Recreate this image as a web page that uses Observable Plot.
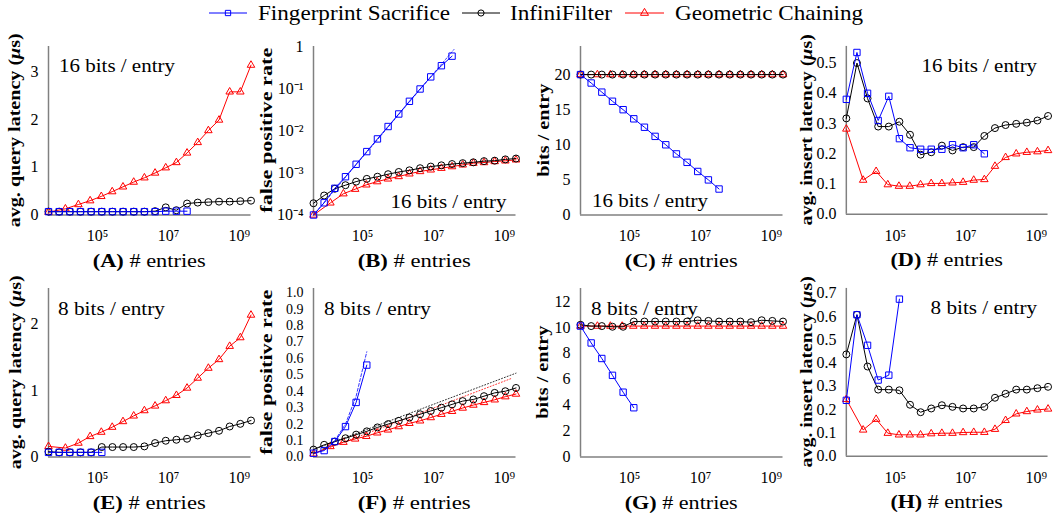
<!DOCTYPE html>
<html><head><meta charset="utf-8">
<script src="https://cdn.jsdelivr.net/npm/d3@7"></script>
<script src="https://cdn.jsdelivr.net/npm/@observablehq/plot@0.6"></script>
<style>
body{margin:0;background:#fff;}
#root{position:relative;width:1063px;height:521px;font-family:"Liberation Serif",serif;overflow:hidden;}
.panel{position:absolute;}
.panel svg text{font-family:"Liberation Serif",serif;}
</style></head><body><div id="root"></div>
<script>
// ---------- data ----------
// x values (# entries) for Fingerprint Sacrifice and InfiniFilter
const xDouble = [4096, 8192, 16384, 32768, 65536, 131072, 262144, 524288, 1048576, 2097152, 4194304, 8388608, 16777216, 33554432, 67108864, 134217728, 268435456, 536870912, 1073741824, 2147483648];
// x values (# entries) for Geometric Chaining
const xChain = [4096, 12288, 28672, 61440, 126976, 258048, 520192, 1044480, 2093056, 4190208, 8384512, 16773120, 33550336, 67104768, 134213632, 268431360, 536866816, 1073737728, 2147479552];
const seriesNames = ["Fingerprint Sacrifice", "InfiniFilter", "Geometric Chaining"];
const xTicks = [1e5, 1e7, 1e9];
const xTickLabels = ["10⁵", "10⁷", "10⁹"];

// (A) query latency, 16 bits/entry
const qFS16 = [0.07, 0.07, 0.07, 0.07, 0.07, 0.07, 0.07, 0.07, 0.07, 0.07, 0.07, 0.08, 0.08, 0.08];
const qIF16 = [0.07, 0.07, 0.07, 0.07, 0.07, 0.07, 0.07, 0.07, 0.07, 0.07, 0.08, 0.16, 0.10, 0.24, 0.26, 0.27, 0.28, 0.28, 0.29, 0.30];
const qGC16 = [0.06, 0.13, 0.22, 0.30, 0.39, 0.49, 0.59, 0.69, 0.78, 0.88, 0.99, 1.10, 1.30, 1.52, 1.77, 1.99, 2.58, 2.58, 3.14];
// (B) false positive rate, 16 bits/entry
const fpFS16 = [1e-4, 1.95e-4, 4.3e-4, 8.1e-4, 1.6e-3, 3.2e-3, 6.4e-3, 1.26e-2, 2.5e-2, 5.0e-2, 9.8e-2, 0.19, 0.35, 0.59];
const fpIF16 = [1.9e-4, 2.9e-4, 4.2e-4, 5.1e-4, 6.2e-4, 7.2e-4, 8.1e-4, 9.3e-4, 1.05e-3, 1.15e-3, 1.29e-3, 1.41e-3, 1.51e-3, 1.62e-3, 1.7e-3, 1.78e-3, 1.9e-3, 1.95e-3, 2.09e-3, 2.19e-3];
const fpGC16 = [1e-4, 1.94e-4, 3.2e-4, 4.1e-4, 5.2e-4, 6.2e-4, 7.2e-4, 8.2e-4, 9.5e-4, 1.08e-3, 1.18e-3, 1.29e-3, 1.41e-3, 1.55e-3, 1.7e-3, 1.76e-3, 1.86e-3, 1.93e-3, 2.04e-3];
const fpModelFS16x = [4096, 38000000];
const fpModelFS16 = [1e-4, 0.85];
// (C) bits per entry, 16 bits/entry
const bFS16 = [20, 18.8, 17.5, 16.2, 15.0, 13.7, 12.5, 11.2, 10.0, 8.7, 7.5, 6.2, 5.0, 3.7];
const bIF16 = [20, 20, 20, 20, 20, 20, 20, 20, 20, 20, 20, 20, 20, 20, 20, 20, 20, 20, 20, 20];
const bGC16 = [20, 20, 20, 20, 20, 20, 20, 20, 20, 20, 20, 20, 20, 20, 20, 20, 20, 20, 20];
// (D) insert latency, 16 bits/entry
const iFS16 = [0.38, 0.535, 0.40, 0.31, 0.39, 0.25, 0.22, 0.215, 0.215, 0.215, 0.23, 0.22, 0.23, 0.20];
const iIF16 = [0.317, 0.500, 0.383, 0.290, 0.290, 0.306, 0.263, 0.197, 0.205, 0.227, 0.211, 0.222, 0.222, 0.259, 0.285, 0.295, 0.299, 0.303, 0.310, 0.325];
const iGC16 = [0.282, 0.113, 0.142, 0.098, 0.093, 0.093, 0.098, 0.102, 0.102, 0.104, 0.106, 0.113, 0.115, 0.159, 0.188, 0.200, 0.205, 0.207, 0.211];
// (E) query latency, 8 bits/entry
const qFS8 = [0.07, 0.07, 0.07, 0.07, 0.07, 0.07];
const qIF8 = [0.08, 0.07, 0.07, 0.07, 0.07, 0.15, 0.15, 0.15, 0.15, 0.16, 0.21, 0.245, 0.26, 0.275, 0.325, 0.36, 0.395, 0.46, 0.50, 0.55];
const qGC8 = [0.16, 0.135, 0.21, 0.31, 0.375, 0.45, 0.535, 0.62, 0.70, 0.77, 0.85, 0.93, 1.04, 1.19, 1.34, 1.47, 1.67, 1.80, 2.14];
// (F) false positive rate, 8 bits/entry
const fpFS8 = [0.023, 0.039, 0.094, 0.185, 0.332, 0.559];
const fpIF8 = [0.045, 0.074, 0.094, 0.114, 0.136, 0.156, 0.18, 0.20, 0.22, 0.24, 0.26, 0.28, 0.30, 0.32, 0.34, 0.35, 0.37, 0.39, 0.40, 0.42];
const fpGC8 = [0.019, 0.064, 0.09, 0.11, 0.126, 0.147, 0.165, 0.185, 0.205, 0.22, 0.24, 0.26, 0.278, 0.298, 0.316, 0.332, 0.348, 0.367, 0.383];
const fpModelFS8x = [4096, 8192, 16384, 32768, 65536, 131072];
const fpModelFS8 = [0.02, 0.045, 0.10, 0.20, 0.37, 0.64];
const fpModelIF8x = [4096, 2147483648];
const fpModelIF8 = [0.045, 0.51];
const fpModelGC8x = [4096, 1600000000];
const fpModelGC8 = [0.02, 0.478];
// (G) bits per entry, 8 bits/entry
const bFS8 = [10.1, 8.8, 7.6, 6.3, 5.0, 3.8];
const bIF8 = [10.2, 10.1, 10.1, 10.05, 10.05, 10.45, 10.45, 10.45, 10.45, 10.45, 10.45, 10.55, 10.5, 10.45, 10.45, 10.45, 10.4, 10.55, 10.5, 10.45];
const bGC8 = [10.1, 10.1, 10.1, 10.1, 10.1, 10.1, 10.1, 10.1, 10.1, 10.1, 10.1, 10.1, 10.1, 10.1, 10.1, 10.1, 10.1, 10.1, 10.1];
// (H) insert latency, 8 bits/entry
const iFS8 = [0.24, 0.607, 0.476, 0.327, 0.348, 0.674];
const iIF8 = [0.437, 0.607, 0.385, 0.286, 0.286, 0.283, 0.221, 0.189, 0.205, 0.219, 0.212, 0.205, 0.205, 0.212, 0.251, 0.268, 0.286, 0.286, 0.292, 0.298];
const iGC8 = [0.244, 0.113, 0.159, 0.099, 0.092, 0.092, 0.092, 0.097, 0.099, 0.099, 0.102, 0.103, 0.103, 0.116, 0.154, 0.182, 0.192, 0.199, 0.203];

const yTicksA = [0, 1, 2, 3];
const yTicksB = [1e-4, 1e-3, 1e-2, 1e-1, 1];
const yTickLabelsB = ["10⁻⁴", "10⁻³", "10⁻²", "10⁻¹", "1"];
const yTicksC = [0, 5, 10, 15, 20];
const yTicksD = [0, 0.1, 0.2, 0.3, 0.4, 0.5];
const yTicksE = [0, 1, 2];
const yTicksF = [0, 0.1, 0.2, 0.3, 0.4, 0.5, 0.6, 0.7, 0.8, 0.9, 1.0];
const yTicksG = [0, 2, 4, 6, 8, 10, 12];
const yTicksH = [0, 0.1, 0.2, 0.3, 0.4, 0.5, 0.6, 0.7];

// ---------- styling ----------
const colors = {FS: "#0000ff", IF: "#000000", GC: "#ff0000"};
const FONT = "Liberation Serif";
const AXIS = "#808080";
const cols = [48, 313, 579.5, 846];
const plotW = 202.5, plotH = 168.5, ML = 48, SVGW = 266;
const rows = [{top: 25, mt: 21, h: 242}, {top: 267, mt: 21, h: 254}];

const zip = (xs, ys) => ys.map((y, i) => ({x: xs[i], y}));
const f1 = d3.format(".1f");

function seriesMarks(xs, ys, color, symbol, r) {
  const d = zip(xs, ys);
  return [
    Plot.line(d, {x: "x", y: "y", stroke: color, strokeWidth: 1}),
    Plot.dot(d, {x: "x", y: "y", stroke: color, fill: "none", symbol, r, strokeWidth: 1})
  ];
}
function modelMark(xs, ys, color, dash) {
  return Plot.line(zip(xs, ys), {x: "x", y: "y", stroke: color, strokeWidth: 0.8, strokeDasharray: dash});
}

function panel(cfg) {
  const R = rows[cfg.row];
  const svg = Plot.plot({
    width: SVGW, height: R.h,
    marginLeft: ML, marginRight: SVGW - ML - plotW, marginTop: R.mt, marginBottom: R.h - R.mt - plotH,
    style: "background:transparent;overflow:visible;font-family:'Liberation Serif',serif;font-size:16px;color:#000;",
    x: {type: "log", domain: [4096, 2147483648]},
    y: {type: cfg.yType || "linear", domain: cfg.yDomain},
    marks: [
      Plot.axisX({ticks: xTicks, tickFormat: (d) => xTickLabels[xTicks.indexOf(d)], label: null, tickSize: 0, tickPadding: 15, fontSize: 16}),
      Plot.axisY({ticks: cfg.yTicks, tickFormat: cfg.yFormat, label: null, tickSize: 0, tickPadding: 10, fontSize: cfg.yFont || 16}),
      Plot.ruleY([cfg.yDomain[0]], {stroke: AXIS, strokeWidth: 1.5}),
      Plot.ruleX([4096], {stroke: AXIS, strokeWidth: 1.5}),
      ...(cfg.models || []),
      ...seriesMarks(xChain, cfg.gc, colors.GC, "triangle", 2.8),
      ...seriesMarks(xDouble, cfg.inf, colors.IF, "circle", 3.5),
      ...seriesMarks(xDouble, cfg.fs, colors.FS, "square", 3.6)
    ]
  });
  const s = d3.select(svg);
  // annotation
  const nx = cfg.noteTA === "start" ? ML + cfg.noteDx : ML + plotW + cfg.noteDx;
  const ny = cfg.noteV === "top" ? R.mt + cfg.noteDy : R.mt + plotH + cfg.noteDy;
  s.append("text").attr("x", nx).attr("y", ny).attr("text-anchor", cfg.noteTA).attr("dominant-baseline", "central")
    .attr("font-family", FONT).attr("font-size", 19).attr("fill", "#000")
    .attr("textLength", cfg.noteLen).attr("lengthAdjust", "spacingAndGlyphs").text(cfg.note);
  // y-axis title
  const yl = s.append("text")
    .attr("transform", `translate(${cfg.ylx},${R.mt + plotH / 2}) rotate(-90)`)
    .attr("text-anchor", "middle").attr("dominant-baseline", "central")
    .attr("font-family", FONT).attr("font-weight", "bold").attr("font-size", 17).attr("fill", "#000")
    .attr("textLength", cfg.ylen).attr("lengthAdjust", "spacingAndGlyphs");
  cfg.ylabel.forEach(([t, it]) => yl.append("tspan").attr("font-style", it ? "italic" : null).text(t));
  // x-axis title
  const xl = s.append("text")
    .attr("x", ML + plotW / 2).attr("y", R.mt + plotH + 45.5)
    .attr("text-anchor", "middle").attr("dominant-baseline", "central")
    .attr("font-family", FONT).attr("font-size", 19).attr("fill", "#000")
    .attr("textLength", 113).attr("lengthAdjust", "spacingAndGlyphs");
  xl.append("tspan").attr("font-weight", "bold").text(`(${cfg.letter})`);
  xl.append("tspan").text(" # entries");
  const wrap = document.createElement("div");
  wrap.className = "panel";
  wrap.style.left = (cols[cfg.col] - ML) + "px";
  wrap.style.top = R.top + "px";
  wrap.appendChild(svg);
  document.getElementById("root").appendChild(wrap);
}

const latQ = [["avg. query latency ("], ["μ", true], ["s)"]];
const latI = [["avg. insert latency ("], ["μ", true], ["s)"]];
const fpr = [["false positive rate"]];
const bpe = [["bits / entry"]];

panel({col: 0, row: 0, letter: "A", ylabel: latQ, ylen: 194, ylx: 14, yDomain: [0, 3.53], yTicks: yTicksA, yFormat: (d) => String(d),
  fs: qFS16, inf: qIF16, gc: qGC16, note: "16 bits / entry", noteLen: 116, noteV: "top", noteTA: "start", noteDx: 11, noteDy: 19});
panel({col: 1, row: 0, letter: "B", ylabel: fpr, ylen: 165, ylx: 1, yType: "log", yDomain: [1e-4, 1], yTicks: yTicksB, yFormat: (d) => yTickLabelsB[yTicksB.indexOf(d)],
  fs: fpFS16, inf: fpIF16, gc: fpGC16, models: [modelMark(fpModelFS16x, fpModelFS16, colors.FS, "2,2")],
  note: "16 bits / entry", noteLen: 116, noteV: "bottom", noteTA: "end", noteDx: -9, noteDy: -13.5});
panel({col: 2, row: 0, letter: "C", ylabel: bpe, ylen: 93, ylx: 10.5, yDomain: [0, 24], yTicks: yTicksC, yFormat: (d) => String(d),
  fs: bFS16, inf: bIF16, gc: bGC16, note: "16 bits / entry", noteLen: 116, noteV: "bottom", noteTA: "start", noteDx: 12, noteDy: -14});
panel({col: 3, row: 0, letter: "D", ylabel: latI, ylen: 192, ylx: 8, yDomain: [0, 0.555], yTicks: yTicksD, yFormat: f1,
  fs: iFS16, inf: iIF16, gc: iGC16, note: "16 bits / entry", noteLen: 116, noteV: "top", noteTA: "end", noteDx: -10.5, noteDy: 20});
panel({col: 0, row: 1, letter: "E", ylabel: latQ, ylen: 194, ylx: 15, yDomain: [0, 2.54], yTicks: yTicksE, yFormat: (d) => String(d),
  fs: qFS8, inf: qIF8, gc: qGC8, note: "8 bits / entry", noteLen: 107, noteV: "top", noteTA: "start", noteDx: 10, noteDy: 20});
panel({col: 1, row: 1, letter: "F", ylabel: fpr, ylen: 165, ylx: 1, yDomain: [0, 1.025], yTicks: yTicksF, yFormat: f1, yFont: 14,
  fs: fpFS8, inf: fpIF8, gc: fpGC8,
  models: [modelMark(fpModelIF8x, fpModelIF8, colors.IF, "1,2"), modelMark(fpModelGC8x, fpModelGC8, colors.GC, "1,2"), modelMark(fpModelFS8x, fpModelFS8, colors.FS, "3,2")],
  note: "8 bits / entry", noteLen: 107, noteV: "top", noteTA: "start", noteDx: 11, noteDy: 20});
panel({col: 2, row: 1, letter: "G", ylabel: bpe, ylen: 93, ylx: 10, yDomain: [0, 13], yTicks: yTicksG, yFormat: (d) => String(d),
  fs: bFS8, inf: bIF8, gc: bGC8, note: "8 bits / entry", noteLen: 107, noteV: "top", noteTA: "start", noteDx: 11, noteDy: 20});
panel({col: 3, row: 1, letter: "H", ylabel: latI, ylen: 192, ylx: 8, yDomain: [0, 0.72], yTicks: yTicksH, yFormat: f1,
  fs: iFS8, inf: iIF8, gc: iGC8, note: "8 bits / entry", noteLen: 107, noteV: "top", noteTA: "end", noteDx: -10.5, noteDy: 20});

// ---------- legend ----------
const legendItems = [
  {name: seriesNames[0], color: colors.FS, sym: d3.symbolSquare, x0: 209, x1: 247, tx: 258, len: 192},
  {name: seriesNames[1], color: colors.IF, sym: d3.symbolCircle, x0: 462, x1: 500, tx: 510, len: 102},
  {name: seriesNames[2], color: colors.GC, sym: d3.symbolTriangle, x0: 625, x1: 664, tx: 675, len: 188}
];
const leg = d3.select("#root").append("svg").attr("width", 1063).attr("height", 25)
  .style("position", "absolute").style("left", "0px").style("top", "0px");
legendItems.forEach((it) => {
  const g = leg.append("g");
  g.append("line").attr("x1", it.x0).attr("x2", it.x1).attr("y1", 13).attr("y2", 13).attr("stroke", it.color).attr("stroke-width", 1);
  g.append("path").attr("d", d3.symbol(it.sym, it.sym === d3.symbolCircle ? 30 : 28)())
    .attr("transform", `translate(${(it.x0 + it.x1) / 2},13)`).attr("fill", "none").attr("stroke", it.color).attr("stroke-width", 1);
  g.append("text").attr("x", it.tx).attr("y", 13).attr("dominant-baseline", "central")
    .attr("font-family", FONT).attr("font-size", 21).attr("fill", "#000")
    .attr("textLength", it.len).attr("lengthAdjust", "spacingAndGlyphs").text(it.name);
});
</script></body></html>
